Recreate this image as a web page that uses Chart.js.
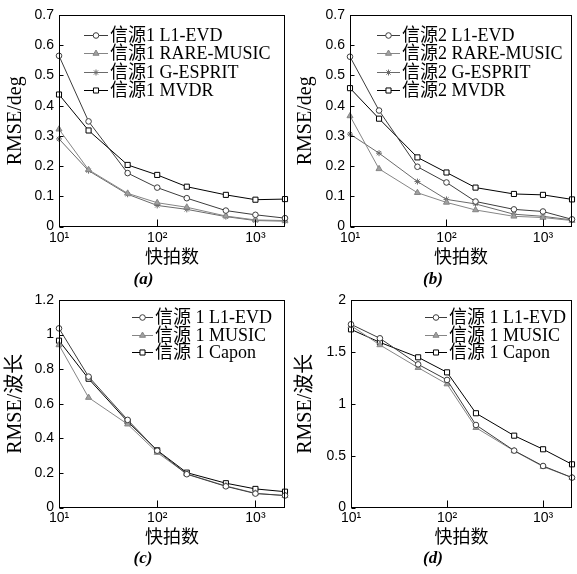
<!DOCTYPE html>
<html>
<head>
<meta charset="utf-8">
<script src="https://cdn.jsdelivr.net/npm/chart.js@4.4.1/dist/chart.umd.min.js"></script>
<style>
  body { margin: 0; background: #fff; }
  .panel { position: absolute; }
  canvas { display: block; }
</style>
</head>
<body>
<div class="panel" style="left:0px;top:0px"><canvas id="chartA" width="290" height="290"></canvas></div>
<div class="panel" style="left:290px;top:0px"><canvas id="chartB" width="287" height="290"></canvas></div>
<div class="panel" style="left:0px;top:285px"><canvas id="chartC" width="290" height="289"></canvas></div>
<div class="panel" style="left:290px;top:285px"><canvas id="chartD" width="287" height="289"></canvas></div>
<script>
//// data
const snapshots = [10, 20, 50, 100, 200, 500, 1000, 2000];
const xTickValues = [10, 100, 1000];
const xTickLabels = ['10\u00b9', '10\u00b2', '10\u00b3'];

// (a) source 1, RMSE in degrees
const a_l1evd   = [0.565, 0.348, 0.177, 0.129, 0.094, 0.053, 0.039, 0.028];
const a_rare    = [0.322, 0.188, 0.110, 0.079, 0.064, 0.035, 0.022, 0.020];
const a_gesprit = [0.290, 0.185, 0.107, 0.070, 0.057, 0.033, 0.020, 0.018];
const a_mvdr    = [0.437, 0.318, 0.204, 0.171, 0.132, 0.105, 0.089, 0.091];

// (b) source 2, RMSE in degrees
const b_l1evd   = [0.562, 0.384, 0.198, 0.146, 0.083, 0.057, 0.050, 0.024];
const b_rare    = [0.366, 0.191, 0.112, 0.080, 0.055, 0.034, 0.030, 0.020];
const b_gesprit = [0.306, 0.243, 0.149, 0.090, 0.075, 0.041, 0.034, 0.022];
const b_mvdr    = [0.458, 0.357, 0.229, 0.179, 0.129, 0.108, 0.105, 0.090];

// (c) source 1, RMSE in wavelengths
const c_l1evd = [1.036, 0.757, 0.507, 0.329, 0.193, 0.123, 0.081, 0.070];
const c_music = [0.940, 0.636, 0.482, 0.318, 0.195, 0.125, 0.083, 0.069];
const c_capon = [0.965, 0.745, 0.497, 0.331, 0.202, 0.141, 0.108, 0.092];

// (d) source 1, RMSE in wavelengths
const d_l1evd = [1.766, 1.631, 1.380, 1.230, 0.796, 0.549, 0.401, 0.289];
const d_music = [1.753, 1.567, 1.348, 1.190, 0.770, 0.546, 0.395, 0.289];
const d_capon = [1.717, 1.592, 1.448, 1.303, 0.909, 0.693, 0.562, 0.417];

//// styles
const sansFont = "'Liberation Sans', Arial, sans-serif";
const serifFont = "'Liberation Serif', 'Times New Roman', 'Noto Sans CJK SC', serif";

const styles = {
  l1evd:   { color: '#3c3c3c', pointStyle: 'circle',   pointRadius: 2.8, fill: '#fff' },
  rare:    { color: '#858585', pointStyle: 'triangle', pointRadius: 3.5, fill: '#a0a0a0' },
  gesprit: { color: '#6a6a6a', pointStyle: 'star',     pointRadius: 3,   fill: '#6a6a6a' },
  mvdr:    { color: '#000000', pointStyle: 'rect',     pointRadius: 3.6, fill: '#fff' }
};

function series(label, values, st) {
  return {
    label: label,
    data: snapshots.map((x, i) => ({ x: x, y: values[i] })),
    borderColor: st.color,
    borderWidth: 1,
    pointStyle: st.pointStyle,
    pointRadius: st.pointRadius,
    pointBorderWidth: 1,
    pointBorderColor: st.color,
    pointBackgroundColor: st.fill,
    tension: 0,
    fill: false,
    clip: false
  };
}

// frame around the plot and ticks pointing inward
const frameTicks = {
  id: 'frameTicks',
  afterDatasetsDraw(chart) {
    const ctx = chart.ctx;
    const a = chart.chartArea;
    ctx.save();
    ctx.strokeStyle = '#000';
    ctx.lineWidth = 1;
    const l = Math.round(a.left) + 0.5, r = Math.round(a.right) - 0.5;
    const t = Math.round(a.top) + 0.5, b = Math.round(a.bottom) - 0.5;
    ctx.strokeRect(l, t, r - l, b - t);
    ctx.beginPath();
    chart.scales.y.ticks.forEach(tk => {
      const y = Math.round(chart.scales.y.getPixelForValue(tk.value)) + 0.5;
      ctx.moveTo(l, y); ctx.lineTo(l + 4, y);
    });
    chart.scales.x.ticks.forEach(tk => {
      const x = Math.round(chart.scales.x.getPixelForValue(tk.value)) + 0.5;
      if (x > l + 2 && x < r - 2) { ctx.moveTo(x, b); ctx.lineTo(x, b - 7); }
    });
    ctx.stroke();
    ctx.restore();
  }
};

// legend drawn inside the plot, top right
const insideLegend = {
  id: 'insideLegend',
  afterDraw(chart, args, opts) {
    const ctx = chart.ctx;
    const a = chart.chartArea;
    ctx.save();
    ctx.font = '18px ' + serifFont;
    ctx.textBaseline = 'middle';
    chart.data.datasets.forEach((ds, i) => {
      const y = Math.round(a.top + opts.top + i * opts.rowGap) + 0.5;
      const x0 = a.left + opts.left;
      ctx.strokeStyle = ds.borderColor;
      ctx.lineWidth = 1;
      ctx.beginPath(); ctx.moveTo(x0, y); ctx.lineTo(x0 + opts.lineLen, y); ctx.stroke();
      ctx.fillStyle = ds.pointBackgroundColor;
      ctx.strokeStyle = ds.pointBorderColor;
      Chart.helpers.drawPoint(ctx, { pointStyle: ds.pointStyle, radius: ds.pointRadius, rotation: 0, borderWidth: 1 }, x0 + opts.lineLen / 2, y);
      ctx.fillStyle = '#000';
      ctx.fillText(ds.label, x0 + opts.lineLen + opts.gap, y + 1);
    });
    ctx.restore();
  }
};

function makePanel(id, p) {
  new Chart(document.getElementById(id), {
    type: 'line',
    data: { datasets: p.datasets },
    plugins: [frameTicks, insideLegend],
    options: {
      responsive: false,
      animation: false,
      layout: { padding: { left: 0, right: p.padRight, top: 15, bottom: 0 } },
      plugins: {
        legend: { display: false },
        tooltip: { enabled: false },
        title: {
          display: true,
          position: 'bottom',
          text: p.caption,
          color: '#000',
          font: { family: serifFont, size: 17, style: 'italic', lineHeight: 1.2 },
          padding: { top: 0, bottom: p.captionPad }
        },
        insideLegend: p.legend
      },
      scales: {
        x: {
          type: 'logarithmic',
          min: 10,
          max: 2000,
          grid: { display: false, drawTicks: false },
          border: { display: false },
          afterBuildTicks: s => { s.ticks = xTickValues.map(v => ({ value: v })); },
          afterFit: s => { s.height = p.xHeight; },
          ticks: {
            autoSkip: false,
            maxRotation: 0,
            padding: p.xTickPad,
            color: '#000',
            font: { family: sansFont, size: 14 },
            callback: v => xTickLabels[xTickValues.indexOf(v)]
          },
          title: {
            display: true,
            text: '快拍数',
            color: '#000',
            font: { family: serifFont, size: 18, lineHeight: 1.2 },
            padding: { top: 0, bottom: p.xTitlePad }
          }
        },
        y: {
          min: 0,
          max: p.yMax,
          grid: { display: false, drawTicks: false },
          border: { display: false },
          afterFit: s => { s.width = p.yWidth; },
          ticks: {
            stepSize: p.yStep,
            padding: 5,
            color: '#000',
            font: { family: sansFont, size: 14 },
            callback: v => String(Number(v.toFixed(2)))
          },
          title: {
            display: true,
            text: p.yTitle,
            color: '#000',
            font: { family: serifFont, size: 20, lineHeight: 1.2 },
            padding: { top: 4, bottom: 0 }
          }
        }
      }
    }
  });
}

makePanel('chartA', {
  datasets: [
    series('信源1 L1-EVD', a_l1evd, styles.l1evd),
    series('信源1 RARE-MUSIC', a_rare, styles.rare),
    series('信源1 G-ESPRIT', a_gesprit, styles.gesprit),
    series('信源1 MVDR', a_mvdr, styles.mvdr)
  ],
  caption: '(a)', captionPad: 0, padRight: 3,
  xHeight: 43, xTickPad: 3, xTitlePad: 1,
  yWidth: 59, yMax: 0.7, yStep: 0.1, yTitle: 'RMSE/deg',
  legend: { left: 25, top: 20, rowGap: 18.3, lineLen: 24, gap: 2 }
});

makePanel('chartB', {
  datasets: [
    series('信源2 L1-EVD', b_l1evd, styles.l1evd),
    series('信源2 RARE-MUSIC', b_rare, styles.rare),
    series('信源2 G-ESPRIT', b_gesprit, styles.gesprit),
    series('信源2 MVDR', b_mvdr, styles.mvdr)
  ],
  caption: '(b)', captionPad: 0, padRight: 1,
  xHeight: 43, xTickPad: 3, xTitlePad: 1,
  yWidth: 60, yMax: 0.7, yStep: 0.1, yTitle: 'RMSE/deg',
  legend: { left: 27, top: 20, rowGap: 18.3, lineLen: 23, gap: 2 }
});

makePanel('chartC', {
  datasets: [
    series('信源 1 L1-EVD', c_l1evd, styles.l1evd),
    series('信源 1 MUSIC', c_music, styles.rare),
    series('信源 1 Capon', c_capon, styles.mvdr)
  ],
  caption: '(c)', captionPad: 5, padRight: 4,
  xHeight: 41, xTickPad: 2, xTitlePad: 0,
  yWidth: 59, yMax: 1.2, yStep: 0.2, yTitle: 'RMSE/波长',
  legend: { left: 73, top: 17, rowGap: 17.5, lineLen: 21, gap: 2 }
});

makePanel('chartD', {
  datasets: [
    series('信源 1 L1-EVD', d_l1evd, styles.l1evd),
    series('信源 1 MUSIC', d_music, styles.rare),
    series('信源 1 Capon', d_capon, styles.mvdr)
  ],
  caption: '(d)', captionPad: 5, padRight: 1,
  xHeight: 41, xTickPad: 2, xTitlePad: 0,
  yWidth: 61, yMax: 2, yStep: 0.5, yTitle: 'RMSE/波长',
  legend: { left: 74, top: 17, rowGap: 17.5, lineLen: 22, gap: 2 }
});
</script>
</body>
</html>
